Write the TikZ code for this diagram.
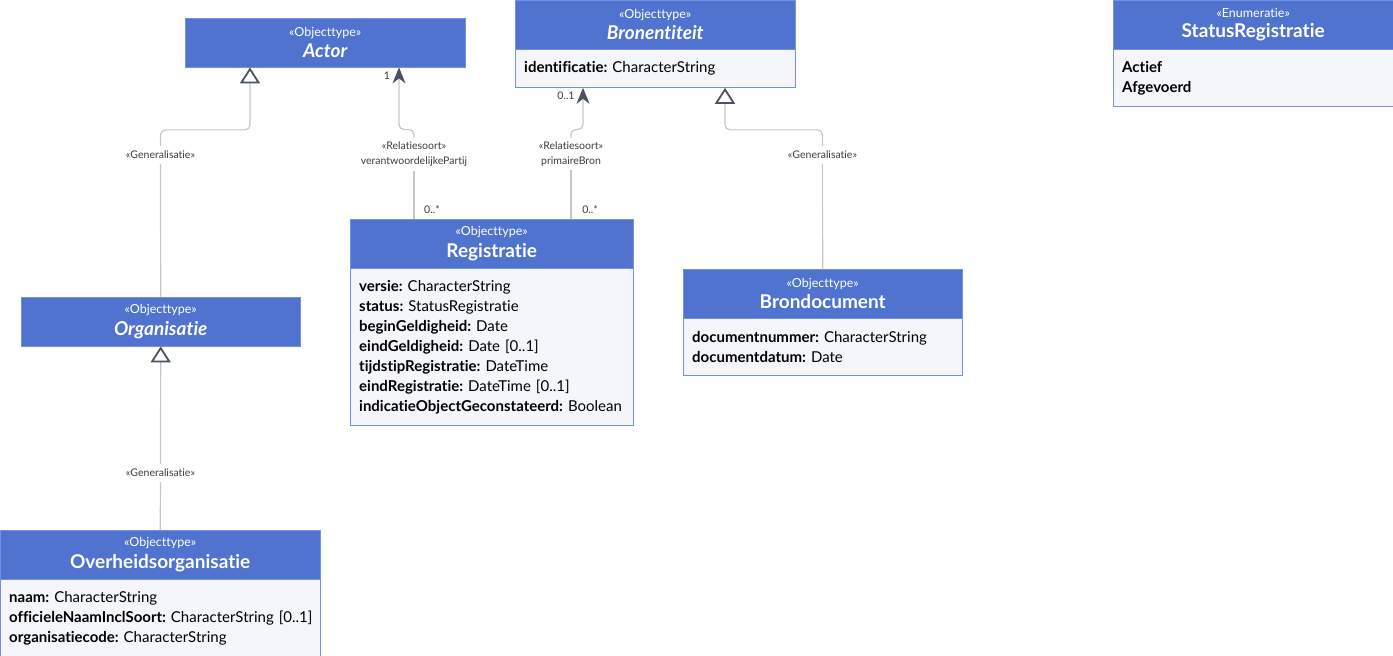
\documentclass[tikz,border=0pt]{standalone}
\usepackage{fontspec}
\setmainfont{Lato}[Ligatures=NoCommon]
\frenchspacing
\usetikzlibrary{positioning,calc,arrows.meta}

\definecolor{umlhead}{HTML}{4F73CE}
\definecolor{umlline}{HTML}{7391DE}
\definecolor{umlbody}{HTML}{F5F6FB}
\definecolor{connline}{HTML}{C3C6CD}
\definecolor{conntip}{HTML}{4A5363}
\definecolor{lbltext}{HTML}{3C3C3C}

\newcommand{\attrfont}{\fontsize{15}{20}\selectfont}
\newcommand{\umlhdr}[2]{{\fontsize{12.5}{14}\selectfont «#1»}\\[4pt]{\fontsize{19}{20}\selectfont\bfseries #2}}
\newcommand{\umlhdrit}[2]{{\fontsize{12.5}{14}\selectfont «#1»}\\[4pt]{\fontsize{19}{20}\selectfont\bfseries\itshape #2}}

\begin{document}
\begin{tikzpicture}[x=1pt,y=-1pt,
  head/.style={draw=umlline, fill=umlhead, text=white, anchor=north west,
    minimum width=#1, minimum height=49pt, inner sep=0pt, align=center},
  body/.style={draw=umlline, fill=umlbody, text=black, text width=#1,
    inner xsep=9pt, inner ysep=0pt, align=left, font=\attrfont},
  conn/.style={draw=connline, line width=1.2pt},
  gentip/.style={-{Triangle[open, length=16pt, width=20pt, line width=1.8pt, color=conntip, fill=white]}},
  assoctip/.style={-{Stealth[length=16pt, width=13pt, inset=5pt, color=conntip]}},
  lbl/.style={text=lbltext, font=\fontsize{10.5}{15}\selectfont, inner xsep=2pt, inner ysep=5pt, align=center},
  mult/.style={text=lbltext, font=\fontsize{10.5}{11}\selectfont, inner sep=0pt}]

\useasboundingbox (0,0) rectangle (1393,656);

% classes
\node[head=280pt] (actor) at (185,18) {\umlhdrit{Objecttype}{Actor}};

\node[head=280pt] (bronh) at (515,0) {\umlhdrit{Objecttype}{Bronentiteit}};
\node[body=262pt, minimum height=38pt, below=0pt of bronh] (bronb)
  {\textbf{identificatie:} CharacterString};

\node[head=280pt] (stath) at (1113,0) {\umlhdr{Enumeratie}{StatusRegistratie}};
\node[body=262pt, minimum height=57pt, below=0pt of stath] (statb)
  {\textbf{Actief}\\\textbf{Afgevoerd}};

\node[head=283pt] (regh) at (350,219) {\umlhdr{Objecttype}{Registratie}};
\node[body=265pt, minimum height=157pt, below=0pt of regh] (regb)
  {\textbf{versie:} CharacterString\\
   \textbf{status:} StatusRegistratie\\
   \textbf{beginGeldigheid:} Date\\
   \textbf{eindGeldigheid:} Date [0..1]\\
   \textbf{tijdstipRegistratie:} DateTime\\
   \textbf{eindRegistratie:} DateTime [0..1]\\
   \textbf{indicatieObjectGeconstateerd:} Boolean};

\node[head=279pt] (brdh) at (683,269) {\umlhdr{Objecttype}{Brondocument}};
\node[body=261pt, minimum height=57pt, below=0pt of brdh] (brdb)
  {\textbf{documentnummer:} CharacterString\\
   \textbf{documentdatum:} Date};

\node[head=279pt] (orgh) at (21,297) {\umlhdrit{Objecttype}{Organisatie}};

\node[head=320pt] (ovh) at (0,530) {\umlhdr{Objecttype}{Overheidsorganisatie}};
\node[body=302pt, minimum height=77pt, below=0pt of ovh] (ovb)
  {\textbf{naam:} CharacterString\\
   \mbox{\textbf{officieleNaamInclSoort:} CharacterString [0..1]}\\
   \textbf{organisatiecode:} CharacterString};

% generalisaties
\node[lbl] (gen1) at (160.5,155) {«Generalisatie»};
\draw[conn] (orgh.north) -- (gen1.south);
\draw[conn, gentip, rounded corners=5pt] (gen1.north) -- ++(0,-16) -| ($(actor.south west)+(65,0)$);

\node[lbl] (gen2) at (822.5,155) {«Generalisatie»};
\draw[conn] (brdh.north) -- (gen2.south);
\draw[conn, gentip, rounded corners=5pt] (gen2.north) -- ++(0,-16) -| ($(bronb.south west)+(210,0)$);

\node[lbl] (gen3) at (160.5,473) {«Generalisatie»};
\draw[conn] (ovh.north) -- (gen3.south);
\draw[conn, gentip] (gen3.north) -- (orgh.south);

% relatiesoorten
\node[lbl, inner ysep=4pt] (rel1) at (414,154) {«Relatiesoort»\\verantwoordelijkePartij};
\draw[conn] (rel1.south) -- (rel1.south |- regh.north);
\draw[conn, assoctip, rounded corners=5pt] (rel1.north) -- ++(0,-8) -| ($(actor.south west)+(214,0)$);
\node[mult] (m1) at (387,76) {1};
\node[mult] (m2) at (432,210) {0..*};

\node[lbl, inner ysep=4pt] (rel2) at (571,154) {«Relatiesoort»\\primaireBron};
\draw[conn] (rel2.south) -- (rel2.south |- regh.north);
\draw[conn, assoctip, rounded corners=5pt] (rel2.north) -- ++(0,-8) -| ($(bronb.south west)+(68,0)$);
\node[mult] (m3) at (566,96) {0..1};
\node[mult] (m4) at (590,210) {0..*};

\end{tikzpicture}
\end{document}
